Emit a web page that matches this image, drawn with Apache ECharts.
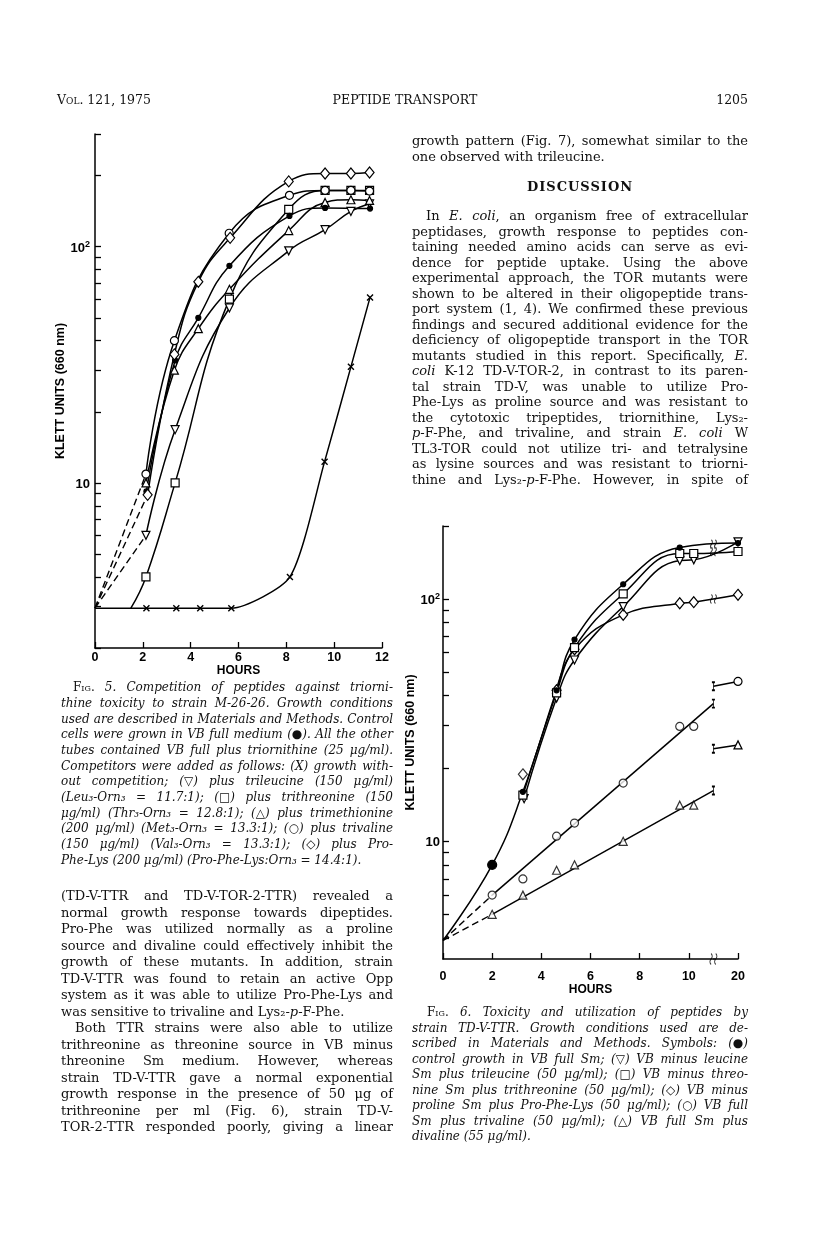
<!DOCTYPE html>
<html><head><meta charset="utf-8">
<script src="https://cdn.jsdelivr.net/npm/echarts@6/dist/echarts.min.js"></script>
<style>
html,body{margin:0;padding:0;background:#fff;}
#page{position:relative;width:816px;height:1234px;overflow:hidden;background:#fff;}
#chart{position:absolute;left:0;top:0;width:816px;height:1234px;}
#txt{position:absolute;left:0;top:0;width:816px;height:1234px;pointer-events:none;}
.ln{position:absolute;white-space:nowrap;font-family:'DejaVu Serif',serif;color:#111;box-sizing:border-box;}
.ln span{display:inline-block;transform-origin:0 50%;}
.sc{font-style:normal;font-variant:small-caps;}
</style></head><body><div id="page"><div id="chart"></div><div id="txt"></div></div>
<script>
// ---------------- DATA: Fig. 5 (hours, Klett units) ----------------
const f5Origin = [0, 2.95];            // common starting density
const f5SqLeave = [1.5, 2.95];         // where the trithreonine curve leaves the baseline
const f5Ctrl = [[2.15, 9.2], [3.35, 33], [4.32, 50], [5.62, 83], [8.13, 135], [9.62, 146], [11.5, 145]];
const f5Dia  = [[2.2, 8.9], [3.32, 35], [4.32, 71], [5.65, 109], [8.1, 189], [9.62, 204], [10.7, 204], [11.48, 206]];
const f5Circ = [[2.13, 10.9], [3.32, 40], [5.61, 114], [8.13, 165], [9.62, 173], [10.7, 173], [11.48, 172]];
const f5Sq   = [[2.13, 4.0], [3.35, 10], [5.62, 60], [8.1, 144], [9.62, 173], [10.7, 173], [11.48, 173]];
const f5Tri  = [[2.13, 10], [3.32, 30], [4.32, 45], [5.62, 66], [8.1, 117], [9.62, 154], [10.7, 158], [11.48, 157]];
const f5Inv  = [[2.13, 6.0], [3.35, 16.8], [5.62, 55], [8.1, 96], [9.62, 118], [10.7, 141], [11.48, 152]];
const f5X    = [[2.15, 2.95], [3.4, 2.95], [4.4, 2.95], [5.7, 2.95], [8.15, 4.0], [9.6, 12.3], [10.7, 31], [11.5, 61]];
const f5XTicks = [0, 2, 4, 6, 8, 10, 12];
const f5YTicks = [2, 3, 4, 5, 6, 7, 8, 9, 10, 20, 30, 40, 50, 60, 70, 80, 90, 100, 200, 300];
const f5YLabels = [10, 100];

// ---------------- DATA: Fig. 6 ----------------
const f6Origin = [0, 3.9];
const f6Ctrl = [[2, 8.0], [3.25, 16], [4.62, 42], [5.35, 68], [7.33, 115], [9.63, 163], [20, 170]];
const f6Sq   = [[3.25, 15.5], [4.62, 41], [5.35, 63], [7.33, 105], [9.63, 154], [10.2, 154], [20, 157]];
const f6Inv  = [[3.3, 15], [4.62, 39], [5.35, 56], [7.33, 93], [9.63, 144], [10.2, 145], [20, 172]];
const f6DiaOff = [[3.25, 18.9]];
const f6Dia  = [[4.62, 42], [5.35, 62], [7.33, 86], [9.63, 96], [10.2, 97], [20, 104]];
// trivaline and divaline: measured points and the straight lines drawn through them
const f6Circ = [[2, 6.0], [3.25, 7.0], [4.62, 10.5], [5.35, 11.9], [7.33, 17.4], [9.63, 29.8], [10.2, 29.8]];
const f6CircLine = [[2, 6.0], [11, 37]];
const f6Circ20 = [[11, 43.6], [20, 45.7]];
const f6Tri  = [[2, 5.0], [3.25, 6.0], [4.62, 7.6], [5.35, 8.0], [7.33, 10], [9.63, 14.1], [10.2, 14.1]];
const f6TriLine = [[2, 5.0], [11, 16.2]];
const f6Tri20 = [[11, 24.1], [20, 25]];
const f6BreakMarks = [[11, 168], [11, 157], [11, 100]];
const f6XTicks = [0, 2, 4, 6, 8, 10, 20];
const f6XBreak = [11, 19];
const f6YTicks = [4, 5, 6, 7, 8, 9, 10, 20, 30, 40, 50, 60, 70, 80, 90, 100, 200];
const f6YLabels = [10, 100];
const f6YMin = 3.27, f6YMax = 200;

// ---------------- TEXT ----------------
const header = ['<span class="sc">Vol.</span> 121, 1975', 'PEPTIDE TRANSPORT', '1205'];
const rightTop = ['growth pattern (Fig. 7), somewhat similar to the', 'one observed with trileucine.|'];
const discussionTitle = 'DISCUSSION';
const rightBody = [
 '>In <i>E. coli</i>, an organism free of extracellular',
 'peptidases, growth response to peptides con-',
 'taining needed amino acids can serve as evi-',
 'dence for peptide uptake. Using the above',
 'experimental approach, the TOR mutants were',
 'shown to be altered in their oligopeptide trans-',
 'port system (1, 4). We confirmed these previous',
 'findings and secured additional evidence for the',
 'deficiency of oligopeptide transport in the TOR',
 'mutants studied in this report. Specifically, <i>E.</i>',
 '<i>coli</i> K-12 TD-V-TOR-2, in contrast to its paren-',
 'tal strain TD-V, was unable to utilize Pro-',
 'Phe-Lys as proline source and was resistant to',
 'the cytotoxic tripeptides, triornithine, Lys₂-',
 '<i>p</i>-F-Phe, and trivaline, and strain <i>E. coli</i> W',
 'TL3-TOR could not utilize tri- and tetralysine',
 'as lysine sources and was resistant to triorni-',
 'thine and Lys₂-<i>p</i>-F-Phe. However, in spite of'
];
const cap5 = [
 '><span class="sc">Fig.</span> 5. Competition of peptides against triorni-',
 'thine toxicity to strain M-26-26. Growth conditions',
 'used are described in Materials and Methods. Control',
 'cells were grown in VB full medium (●). All the other',
 'tubes contained VB full plus triornithine (25 μg/ml).',
 'Competitors were added as follows: (X) growth with-',
 'out competition; (▽) plus trileucine (150 μg/ml)',
 '(Leu₃-Orn₃ = 11.7:1); (□) plus trithreonine (150',
 'μg/ml) (Thr₃-Orn₃ = 12.8:1); (△) plus trimethionine',
 '(200 μg/ml) (Met₃-Orn₃ = 13.3:1); (○) plus trivaline',
 '(150 μg/ml) (Val₃-Orn₃ = 13.3:1); (◇) plus Pro-',
 'Phe-Lys (200 μg/ml) (Pro-Phe-Lys:Orn₃ = 14.4:1).|'
];
const leftBody = [
 '(TD-V-TTR and TD-V-TOR-2-TTR) revealed a',
 'normal growth response towards dipeptides.',
 'Pro-Phe was utilized normally as a proline',
 'source and divaline could effectively inhibit the',
 'growth of these mutants. In addition, strain',
 'TD-V-TTR was found to retain an active Opp',
 'system as it was able to utilize Pro-Phe-Lys and',
 'was sensitive to trivaline and Lys₂-<i>p</i>-F-Phe.|',
 '>Both TTR strains were also able to utilize',
 'trithreonine as threonine source in VB minus',
 'threonine Sm medium. However, whereas',
 'strain TD-V-TTR gave a normal exponential',
 'growth response in the presence of 50 μg of',
 'trithreonine per ml (Fig. 6), strain TD-V-',
 'TOR-2-TTR responded poorly, giving a linear'
];
const cap6 = [
 '><span class="sc">Fig.</span> 6. Toxicity and utilization of peptides by',
 'strain TD-V-TTR. Growth conditions used are de-',
 'scribed in Materials and Methods. Symbols: (●)',
 'control growth in VB full Sm; (▽) VB minus leucine',
 'Sm plus trileucine (50 μg/ml); (□) VB minus threo-',
 'nine Sm plus trithreonine (50 μg/ml); (◇) VB minus',
 'proline Sm plus Pro-Phe-Lys (50 μg/ml); (○) VB full',
 'Sm plus trivaline (50 μg/ml); (△) VB full Sm plus',
 'divaline (55 μg/ml).|'
];

// ---------------- TEXT LAYOUT ----------------
const txt = document.getElementById('txt');
function addLine(html, x, yc, w, o) {
  o = o || {};
  let indent = 0, justify = true;
  if (html.startsWith('>')) { indent = o.indent || 14; html = html.slice(1); }
  if (html.endsWith('|')) { justify = false; html = html.slice(0, -1); }
  if (o.nojust) justify = false;
  const lh = o.lh || 16;
  const d = document.createElement('div');
  d.className = 'ln';
  d.style.left = x + 'px'; d.style.top = (yc - lh / 2) + 'px';
  d.style.width = w + 'px'; d.style.height = lh + 'px'; d.style.lineHeight = lh + 'px';
  d.style.fontSize = (o.fs || 13) + 'px';
  d.style.paddingLeft = indent + 'px';
  if (o.italic) d.style.fontStyle = 'italic';
  if (o.weight) d.style.fontWeight = o.weight;
  if (o.ls) d.style.letterSpacing = o.ls + 'px';
  if (o.align) d.style.textAlign = o.align;
  const s = document.createElement('span');
  s.innerHTML = html;
  d.appendChild(s);
  txt.appendChild(d);
  const avail = w - indent;
  const w0 = s.getBoundingClientRect().width;
  if (w0 > avail) {
    s.style.transform = 'scaleX(' + (avail / w0) + ')';
  } else if (justify) {
    const n = (s.textContent.match(/ /g) || []).length;
    if (n > 0) s.style.wordSpacing = ((avail - w0) / n) + 'px';
  }
}
const LX = 61, LW = 332, RX = 412, RW = 336;
addLine(header[0], 57, 100, 200, {nojust: true, fs: 12.5});
addLine(header[1], 300, 100, 210, {nojust: true, fs: 12.5, align: 'center'});
addLine(header[2], 648, 100, 100, {nojust: true, fs: 12.5, align: 'right'});
rightTop.forEach((t, i) => addLine(t, RX, 141 + i * 16, RW));
addLine(discussionTitle, RX, 187, RW, {nojust: true, align: 'center', weight: 'bold', fs: 13, ls: 1});
rightBody.forEach((t, i) => addLine(t, RX, 216 + i * 15.5, RW));
cap5.forEach((t, i) => addLine(t, LX, 688 + i * 15.7, LW, {italic: true, fs: 12, lh: 15.7, indent: 12}));
leftBody.forEach((t, i) => addLine(t, LX, 896 + i * 16.5, LW));
cap6.forEach((t, i) => addLine(t, RX, 1013 + i * 15.5, RW, {italic: true, fs: 12, lh: 15.5, indent: 15}));

// ---------------- CHART ----------------
const BLK = '#000';
const AXF = 'Liberation Sans';
const SYM = {
  dot:   {symbol: 'circle', size: 5, fill: BLK},
  bigdot:{symbol: 'circle', size: 9, fill: BLK},
  circ:  {symbol: 'circle', size: 8, fill: '#fff'},
  sq:    {symbol: 'rect', size: 8, fill: '#fff'},
  dia:   {symbol: 'diamond', size: [9, 11], fill: '#fff'},
  tri:   {symbol: 'triangle', size: 8, fill: '#fff'},
  inv:   {symbol: 'triangle', size: 8, fill: '#fff', rotate: 180},
  x:     {symbol: 'path://M0,0L10,10M10,0L0,10', size: 6, fill: 'rgba(0,0,0,0)', bw: 1.4},
  bar:   {symbol: 'path://M1,0L1,10M0,0L2,0M0,10L2,10', size: [3, 8], fill: 'rgba(0,0,0,0)', bw: 1.2},
  wave:  {symbol: 'path://M1,0Q3,3 1,6T1,12M5,0Q7,3 5,6T5,12', size: [6, 9], fill: 'rgba(0,0,0,0)', bw: 1.1}
};
function mk(gi, data, sym, o) {
  o = o || {};
  return Object.assign({
    type: 'line', xAxisIndex: gi, yAxisIndex: gi,
    data: data,
    smooth: 0.45,
    symbol: sym.symbol, symbolSize: sym.size, symbolRotate: sym.rotate || 0,
    itemStyle: {color: sym.fill, borderColor: BLK, borderWidth: sym.bw || 1.2},
    lineStyle: {color: BLK, width: 1.5},
    silent: true, animation: false, clip: false
  }, o);
}
function pts(arr) { return arr.map(p => ({value: p})); }
function hidden(p) { return {value: p, symbol: 'none'}; }
function dashed(gi, a, b) {
  return mk(gi, [hidden(a), hidden(b)], SYM.dot, {smooth: false, symbol: 'none', lineStyle: {color: BLK, width: 1.4, type: [7, 4]}});
}
function scatter(gi, arr, sym, o) {
  return Object.assign(mk(gi, pts(arr), sym), {type: 'scatter', z: 4}, o || {});
}
function logFmt(v) { return v >= 100 ? '{b|10}{s|2}' : '{b|10}'; }
const labelRich = {
  b: {fontFamily: AXF, fontWeight: 'bold', fontSize: 13, color: BLK, verticalAlign: 'bottom', lineHeight: 16},
  s: {fontFamily: AXF, fontWeight: 'bold', fontSize: 9, color: BLK, verticalAlign: 'bottom', lineHeight: 16, padding: [0, 0, 6, 0]}
};
function yAx(gi, min, max, ticks, labels, gap, margin) {
  return {
    type: 'log', logBase: 10, gridIndex: gi, min: min, max: max,
    axisLine: {show: true, onZero: false, lineStyle: {color: BLK, width: 1.5}},
    axisTick: {show: true, inside: true, length: 6, customValues: ticks, lineStyle: {color: BLK, width: 1.3}},
    minorTick: {show: false}, splitLine: {show: false},
    axisLabel: {customValues: labels, formatter: logFmt, rich: labelRich, margin: margin, color: BLK},
    name: 'KLETT UNITS (660 nm)', nameLocation: 'middle', nameGap: gap, nameRotate: 90,
    nameTextStyle: {fontFamily: AXF, fontWeight: 'bold', fontSize: 12.5, color: BLK}
  };
}
function xAx(gi, min, max, ticks, margin, gap, extra) {
  return Object.assign({
    type: 'value', gridIndex: gi, min: min, max: max, interval: 2,
    axisLine: {show: true, onZero: false, lineStyle: {color: BLK, width: 1.5}},
    axisTick: {show: true, inside: true, length: 6, customValues: ticks, lineStyle: {color: BLK, width: 1.3}},
    splitLine: {show: false}, minorTick: {show: false},
    axisLabel: {customValues: ticks, margin: margin, fontFamily: AXF, fontWeight: 'bold', fontSize: 12.5, color: BLK},
    name: 'HOURS', nameLocation: 'middle', nameGap: gap,
    nameTextStyle: {fontFamily: AXF, fontWeight: 'bold', fontSize: 12, color: BLK}
  }, extra || {});
}
function barAt(arr, idx) {
  return pts(arr).map((d, i) => i === idx ? Object.assign(d, {symbol: SYM.bar.symbol, symbolSize: SYM.bar.size}) : d);
}

const series = [
  // Fig. 5
  dashed(0, f5Origin, f5Circ[0]),
  dashed(0, f5Origin, f5Dia[0]),
  dashed(0, f5Origin, f5Inv[0]),
  mk(0, [hidden(f5Origin)].concat(pts(f5X)), SYM.x, {smooth: 0.22}),
  mk(0, [hidden(f5SqLeave)].concat(pts(f5Sq)), SYM.sq),
  mk(0, pts(f5Inv), SYM.inv),
  mk(0, pts(f5Tri), SYM.tri),
  mk(0, pts(f5Ctrl), SYM.dot),
  mk(0, pts(f5Circ), SYM.circ),
  mk(0, pts(f5Dia), SYM.dia),
  // Fig. 6
  dashed(1, f6Origin, f6CircLine[0]),
  dashed(1, f6Origin, f6TriLine[0]),
  mk(1, barAt(f6TriLine, 1).map((d, i) => i === 0 ? Object.assign(d, {symbol: 'none'}) : d), SYM.tri, {smooth: false}),
  mk(1, barAt(f6CircLine, 1).map((d, i) => i === 0 ? Object.assign(d, {symbol: 'none'}) : d), SYM.circ, {smooth: false}),
  scatter(1, f6Tri, SYM.tri),
  scatter(1, f6Circ, SYM.circ),
  mk(1, barAt(f6Tri20, 0), SYM.tri, {smooth: false}),
  mk(1, barAt(f6Circ20, 0), SYM.circ, {smooth: false}),
  mk(1, pts(f6Dia), SYM.dia),
  mk(1, pts(f6Inv), SYM.inv),
  mk(1, pts(f6Sq), SYM.sq),
  mk(1, [hidden(f6Origin)].concat(pts(f6Ctrl).map((d, i) => i === 0 ? Object.assign(d, {symbolSize: SYM.bigdot.size}) : d)), SYM.dot),
  scatter(1, f6DiaOff, SYM.dia),
  scatter(1, f6BreakMarks, SYM.wave, {z: 5}),
  scatter(1, [[f6XBreak[0], f6YMin]], SYM.wave, {z: 5, symbolSize: [7, 11]})
];

const option = {
  backgroundColor: 'transparent',
  animation: false,
  grid: [
    {left: 95, top: 134, width: 287, height: 514, containLabel: false, outerBoundsMode: 'none'},
    {left: 443, top: 526, width: 295, height: 433, containLabel: false, outerBoundsMode: 'none'}
  ],
  xAxis: [
    xAx(0, 0, 12, f5XTicks, 3, 16),
    xAx(1, 0, 20, f6XTicks, 11, 25, {breaks: [{start: f6XBreak[0], end: f6XBreak[1], gap: 0}], breakArea: {show: false}})
  ],
  yAxis: [
    yAx(0, 2, 300, f5YTicks, f5YLabels, 22, 5),
    yAx(1, f6YMin, f6YMax, f6YTicks, f6YLabels, 18, 3)
  ],
  series: series
};
const chart = echarts.init(document.getElementById('chart'), null, {renderer: 'canvas'});
chart.setOption(option);
</script></body></html>
